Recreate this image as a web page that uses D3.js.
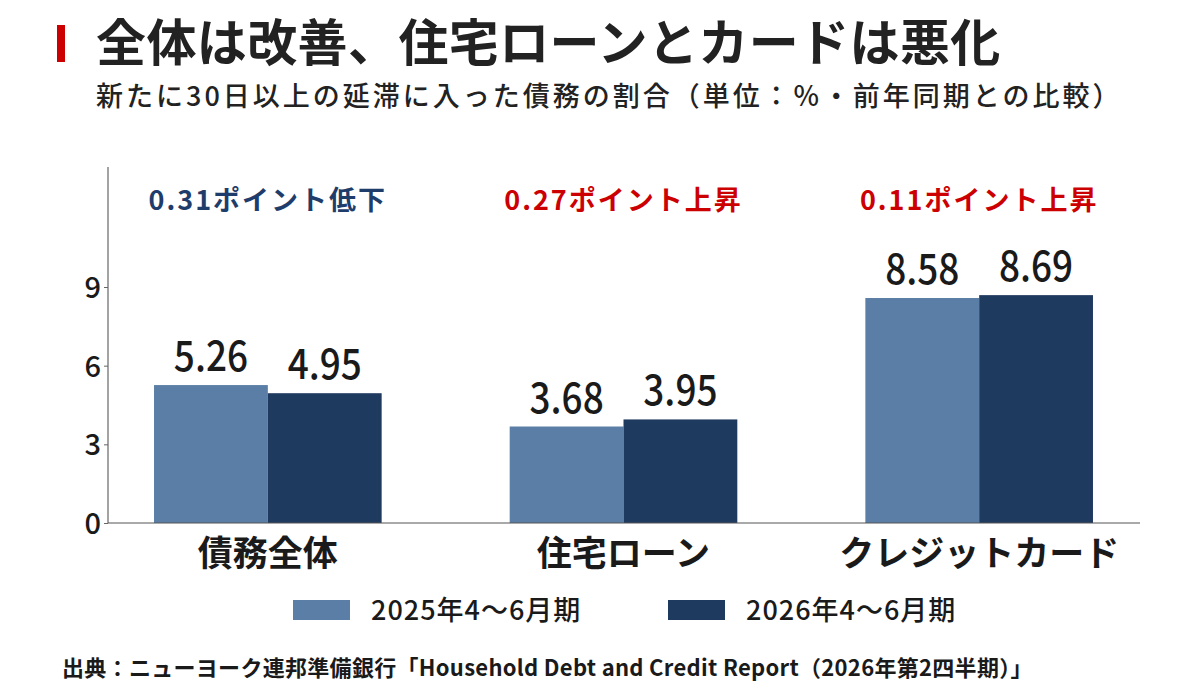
<!DOCTYPE html>
<html><head><meta charset="utf-8">
<script src="https://cdn.jsdelivr.net/npm/d3@7/dist/d3.min.js"></script>
<style>
body{margin:0;background:#fff;}
svg{display:block;font-family:"Noto Sans CJK JP","Noto Sans",sans-serif;}
</style></head>
<body>
<svg id="c" width="1200" height="698"></svg>
<script>
const categories = ["債務全体", "住宅ローン", "クレジットカード"];
const series = ["2025年4〜6月期", "2026年4〜6月期"];
const values2025 = [5.26, 3.68, 8.58];
const values2026 = [4.95, 3.95, 8.69];
const changeLabels = ["0.31ポイント低下", "0.27ポイント上昇", "0.11ポイント上昇"];
const changeDirection = ["down", "up", "up"];
const yTicks = [0, 3, 6, 9];

const svg = d3.select("#c");
const colors = ["#5b7ea6", "#1f3a5f"];

// title
svg.append("rect").attr("x", 57).attr("y", 25).attr("width", 8).attr("height", 37).attr("fill", "#cc0000");
svg.append("text").attr("x", 96).attr("y", 61).attr("font-size", 50).attr("font-weight", 700)
  .attr("letter-spacing", 0.4).attr("fill", "#222").text("全体は改善、住宅ローンとカードは悪化");
svg.append("text").attr("x", 96).attr("y", 106).attr("font-size", 27).attr("font-weight", 500)
  .attr("letter-spacing", 3).attr("fill", "#222").text("新たに30日以上の延滞に入った債務の割合（単位：％・前年同期との比較）");

const y = d3.scaleLinear().domain([0, 13.5]).range([523, 169]);
const x0 = d3.scaleBand().domain(categories).range([90, 1157]).paddingInner(0.36).paddingOuter(0.18);
const x1 = d3.scaleBand().domain(series).range([0, x0.bandwidth()]);

// bars
const data = categories.map((c, i) => ({ c, vals: [values2025[i], values2026[i]] }));
const g = svg.append("g");
data.forEach(d => {
  d.vals.forEach((v, j) => {
    const bx = x0(d.c) + x1(series[j]);
    g.append("rect").attr("x", bx).attr("y", y(v)).attr("width", x1.bandwidth()).attr("height", y(0) - y(v))
      .attr("fill", colors[j]);
    g.append("text").attr("transform", `translate(${bx + x1.bandwidth() / 2},${y(v) - 14}) scale(0.88,1)`)
      .attr("text-anchor", "middle").attr("font-size", 42).attr("font-weight", 500).attr("fill", "#1a1a1a")
      .text(v.toFixed(2));
  });
});

// y axis
const yAxis = d3.axisLeft(y).tickValues(yTicks).tickSize(4).tickSizeOuter(0);
const ya = svg.append("g").attr("transform", "translate(108,0)").call(yAxis);
ya.select(".domain").remove();
ya.selectAll(".tick line").attr("stroke", "#666");
ya.selectAll(".tick text").attr("font-size", 29).attr("font-weight", 500).attr("fill", "#1a1a1a")
  .attr("x", -7).attr("dy", "0.36em").style("font-family", "'Noto Sans CJK JP'");
svg.append("line").attr("x1", 108).attr("x2", 108).attr("y1", 167).attr("y2", y(0)).attr("stroke", "#666").attr("stroke-width", 1.2);
svg.append("line").attr("x1", 108).attr("x2", 1140).attr("y1", y(0)).attr("y2", y(0)).attr("stroke", "#555").attr("stroke-width", 1.2);

// category labels
categories.forEach(c => {
  svg.append("text").attr("x", x0(c) + x0.bandwidth() / 2).attr("y", 566).attr("text-anchor", "middle")
    .attr("font-size", 35).attr("font-weight", 700).attr("fill", "#1a1a1a").text(c);
});

// change labels
categories.forEach((c, i) => {
  svg.append("text").attr("x", x0(c) + x0.bandwidth() / 2).attr("y", 210).attr("text-anchor", "middle")
    .attr("font-size", 27).attr("font-weight", 700).attr("letter-spacing", 2)
    .attr("fill", changeDirection[i] === "down" ? "#1f3d6b" : "#cc0000").text(changeLabels[i]);
});

// legend
const legendX = [293, 668];
series.forEach((s, j) => {
  svg.append("rect").attr("x", legendX[j]).attr("y", 600).attr("width", 57).attr("height", 20).attr("fill", colors[j]);
  svg.append("text").attr("x", legendX[j] + 78).attr("y", 620).attr("font-size", 27).attr("font-weight", 500)
    .attr("letter-spacing", 1).attr("fill", "#1a1a1a").text(s);
});

// footer
svg.append("text").attr("x", 62).attr("y", 676).attr("font-size", 22).attr("font-weight", 700)
  .attr("letter-spacing", 0.3).attr("fill", "#1a1a1a").text("出典：ニューヨーク連邦準備銀行「Household Debt and Credit Report（2026年第2四半期）」");
</script>
</body></html>
